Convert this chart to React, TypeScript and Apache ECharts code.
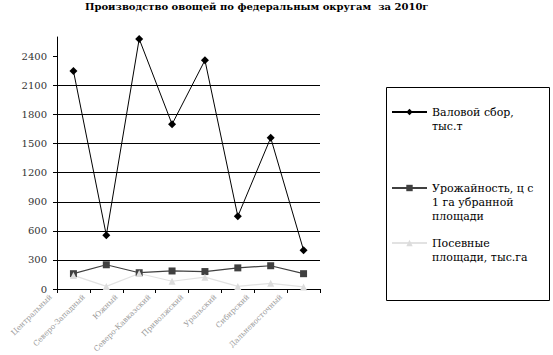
import React, { useEffect, useRef } from "react";
import * as echarts from "echarts";

const categories = [
  "Центральный",
  "Северо-Западный",
  "Южный",
  "Северо-Кавказский",
  "Приволжский",
  "Уральский",
  "Сибирский",
  "Дальневосточный",
];
const grossHarvest = [2250, 555, 2580, 1700, 2360, 750, 1560, 400];
const yieldPerHa = [158, 250, 168, 186, 180, 218, 240, 158];
const sownArea = [140, 27, 160, 80, 122, 27, 59, 21];
const yTicks = [0, 300, 600, 900, 1200, 1500, 1800, 2100, 2400];

const seriesNames = [
  "Валовой сбор, тыс.т",
  "Урожайность, ц с 1 га убранной площади",
  "Посевные площади, тыс.га",
];
const legendTexts = [
  "\nВаловой сбор,\nтыс.т",
  "\n\nУрожайность, ц с\n1 га убранной\nплощади",
  "\nПосевные\nплощади, тыс.га",
];

const SERIF = "'DejaVu Serif', 'Liberation Serif', serif";

export default function App() {
  const ref = useRef<HTMLDivElement>(null);
  useEffect(() => {
    if (!ref.current) return;
    const chart = echarts.init(ref.current, null, { renderer: "svg" });
    const legendBase = {
      orient: "vertical",
      left: 391,
      padding: 0,
      itemWidth: 35,
      itemHeight: 8,
      textStyle: {
        fontFamily: SERIF,
        fontSize: 11,
        color: "#000",
        lineHeight: 14,
      },
      formatter: (name: string) => legendTexts[seriesNames.indexOf(name)],
    };
    chart.setOption({
      animation: false,
      backgroundColor: "#fff",
      title: {
        text: "Производство овощей по федеральным округам  за 2010г",
        left: 85,
        top: 1,
        padding: 0,
        textStyle: {
          fontFamily: SERIF,
          fontWeight: "bold",
          fontSize: 10,
          color: "#000",
        },
      },
      legend: [
        { ...legendBase, top: 91, data: [seriesNames[0]] },
        { ...legendBase, top: 153, data: [seriesNames[1]] },
        { ...legendBase, top: 222, data: [seriesNames[2]] },
      ],
      graphic: [
        {
          type: "rect",
          shape: { x: 386.5, y: 87.5, width: 163, height: 213 },
          style: { fill: "none", stroke: "#000", lineWidth: 1 },
          silent: true,
        },
      ],
      grid: {
        left: 57,
        right: 233,
        top: 37,
        bottom: 66,
        outerBoundsMode: "none",
      },
      xAxis: {
        type: "category",
        data: categories,
        boundaryGap: true,
        axisLine: { lineStyle: { color: "#000", width: 1 } },
        axisTick: { show: true, length: 4, alignWithLabel: false, lineStyle: { color: "#000" } },
        axisLabel: {
          interval: 0,
          rotate: 45,
          margin: -16,
          padding: [0, 32, 0, 0],
          fontFamily: SERIF,
          fontSize: 7.5,
          color: "#9a9a9a",
        },
        splitLine: { show: false },
      },
      yAxis: {
        type: "value",
        min: 0,
        max: 2600,
        interval: 300,
        axisLine: { show: true, lineStyle: { color: "#000", width: 1 } },
        axisTick: {
          show: true,
          length: 4,
          lineStyle: { color: "#000" },
          customValues: yTicks,
        },
        axisLabel: {
          margin: 10,
          fontFamily: SERIF,
          fontSize: 10,
          color: "#333",
          customValues: yTicks,
          formatter: (v: number) => String(v),
        },
        splitLine: {
          show: true,
          showMaxLine: false,
          lineStyle: { color: "#000", width: 1, type: "solid" },
        },
      },
      series: [
        {
          name: seriesNames[0],
          type: "line",
          data: grossHarvest,
          symbol: "diamond",
          symbolSize: 8,
          color: "#000",
          lineStyle: { color: "#000", width: 1 },
          itemStyle: { color: "#000" },
        },
        {
          name: seriesNames[1],
          type: "line",
          data: yieldPerHa,
          symbol: "rect",
          symbolSize: 7,
          color: "#404040",
          lineStyle: { color: "#404040", width: 1.2 },
          itemStyle: { color: "#404040" },
        },
        {
          name: seriesNames[2],
          type: "line",
          data: sownArea,
          symbol: "triangle",
          symbolSize: 7,
          color: "#dcdcdc",
          lineStyle: { color: "#e2e2e2", width: 1.2 },
          itemStyle: { color: "#dcdcdc" },
        },
      ],
    });
    return () => chart.dispose();
  }, []);
  return (
    <div
      ref={ref}
      style={{ position: "fixed", left: 0, top: 0, width: 553, height: 355, background: "#fff" }}
    />
  );
}
